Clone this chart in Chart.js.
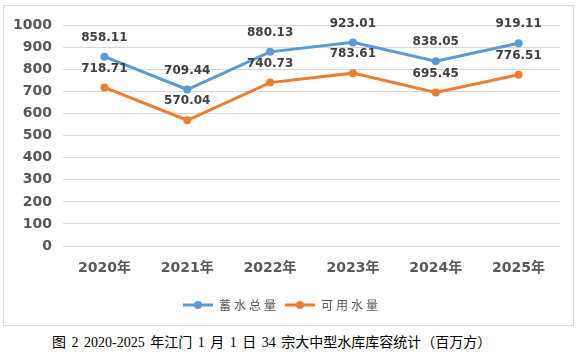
<!DOCTYPE html>
<html>
<head>
<meta charset="utf-8">
<script src="https://cdn.jsdelivr.net/npm/chart.js@4"></script>
<style>
  body { margin: 0; width: 581px; height: 354px; background: #fff; position: relative; overflow: hidden; }
  #box { position: absolute; left: 3px; top: 5px; width: 571px; height: 321px; border: 1px solid #d9d9d9; box-sizing: border-box; }
  #caption { position: absolute; left: 52px; top: 331px; word-spacing: 2px;
    font-family: 'Liberation Serif', 'Noto Sans CJK SC', serif; font-size: 14px; color: #000; white-space: nowrap; }
</style>
</head>
<body>
<div id="box"><canvas id="chart" width="569" height="319"></canvas></div>
<div id="caption">图 2 2020-2025 年江门 1 月 1 日 34 宗大中型水库库容统计（百万方）</div>
<script>
const years = ['2020年', '2021年', '2022年', '2023年', '2024年', '2025年']
const total_storage = [858.11, 709.44, 880.13, 923.01, 838.05, 919.11]
const usable_water = [718.71, 570.04, 740.73, 783.61, 695.45, 776.51]
const y_ticks = [0, 100, 200, 300, 400, 500, 600, 700, 800, 900, 1000]

const color_blue = '#5B9BD5'
const color_orange = '#ED7D31'
const color_text = '#595959'
const font_family = "'DejaVu Sans', 'Noto Sans CJK SC', sans-serif"

// legend marker: a short line with a dot in the middle
function legend_marker(color) {
    const c = document.createElement('canvas')
    c.width = 30
    c.height = 10
    const ctx = c.getContext('2d')
    ctx.strokeStyle = color
    ctx.lineWidth = 3
    ctx.beginPath()
    ctx.moveTo(0, 5)
    ctx.lineTo(30, 5)
    ctx.stroke()
    ctx.fillStyle = color
    ctx.beginPath()
    ctx.arc(15, 5, 4, 0, Math.PI * 2)
    ctx.fill()
    return c
}

// value labels above each point
const value_labels = {
    id: 'value_labels',
    afterDatasetsDraw(chart) {
        const ctx = chart.ctx
        ctx.save()
        ctx.font = 'bold 12px ' + font_family
        ctx.fillStyle = '#404040'
        ctx.textAlign = 'center'
        ctx.textBaseline = 'middle'
        chart.data.datasets.forEach((ds, i) => {
            chart.getDatasetMeta(i).data.forEach((pt, j) => {
                ctx.fillText(ds.data[j].toFixed(2), pt.x, pt.y - 19)
            })
        })
        ctx.restore()
    }
}

// spaced out legend text, only while the legend measures and draws itself
const legend_spacing = {
    id: 'legend_spacing',
    beforeUpdate(chart) {
        const legend = chart.legend
        if (!legend || legend._spaced) return
        legend._spaced = true
        const wrap = name => {
            const orig = legend[name].bind(legend)
            legend[name] = function (...args) {
                const ctx = chart.ctx
                const old = ctx.letterSpacing
                ctx.letterSpacing = '3px'
                const r = orig(...args)
                ctx.letterSpacing = old
                return r
            }
        }
        wrap('fit')
        wrap('draw')
    }
}

new Chart('chart', {
    type: 'line',
    data: {
        labels: years,
        datasets: [{
            label: '蓄水总量',
            data: total_storage,
            borderColor: color_blue,
            backgroundColor: color_blue,
            borderWidth: 3,
            pointRadius: 4,
            pointBorderWidth: 0,
            tension: 0
        }, {
            label: '可用水量',
            data: usable_water,
            borderColor: color_orange,
            backgroundColor: color_orange,
            borderWidth: 3,
            pointRadius: 4,
            pointBorderWidth: 0,
            tension: 0
        }]
    },
    options: {
        responsive: false,
        animation: false,
        layout: {
            padding: { top: 10, right: 13, bottom: 4, left: 0 }
        },
        scales: {
            x: {
                offset: true,
                grid: { display: false },
                border: { display: false },
                ticks: {
                    color: color_text,
                    padding: 6,
                    font: { size: 14, weight: 'bold', family: font_family }
                },
                afterFit(scale) { scale.height = 47 }
            },
            y: {
                min: 0,
                max: 1000,
                afterBuildTicks(scale) { scale.ticks = y_ticks.map(v => ({ value: v })) },
                grid: { color: '#d9d9d9', lineWidth: 1, drawTicks: false },
                border: { display: false },
                ticks: {
                    color: color_text,
                    padding: 11,
                    callback: v => String(v),
                    font: { size: 14, weight: 'bold', family: font_family }
                },
                afterFit(scale) { scale.width = 59 }
            }
        },
        plugins: {
            legend: {
                position: 'bottom',
                labels: {
                    usePointStyle: true,
                    pointStyleWidth: 30,
                    padding: 6,
                    color: color_text,
                    font: { size: 12, family: "'Noto Sans CJK SC', sans-serif" },
                    generateLabels(chart) {
                        return chart.data.datasets.map((ds, i) => ({
                            text: ds.label,
                            fontColor: color_text,
                            pointStyle: legend_marker(ds.borderColor),
                            datasetIndex: i,
                            lineWidth: 0,
                            strokeStyle: 'transparent',
                            fillStyle: ds.borderColor
                        }))
                    }
                }
            },
            tooltip: { enabled: false }
        }
    },
    plugins: [value_labels, legend_spacing]
})
</script>
</body>
</html>
